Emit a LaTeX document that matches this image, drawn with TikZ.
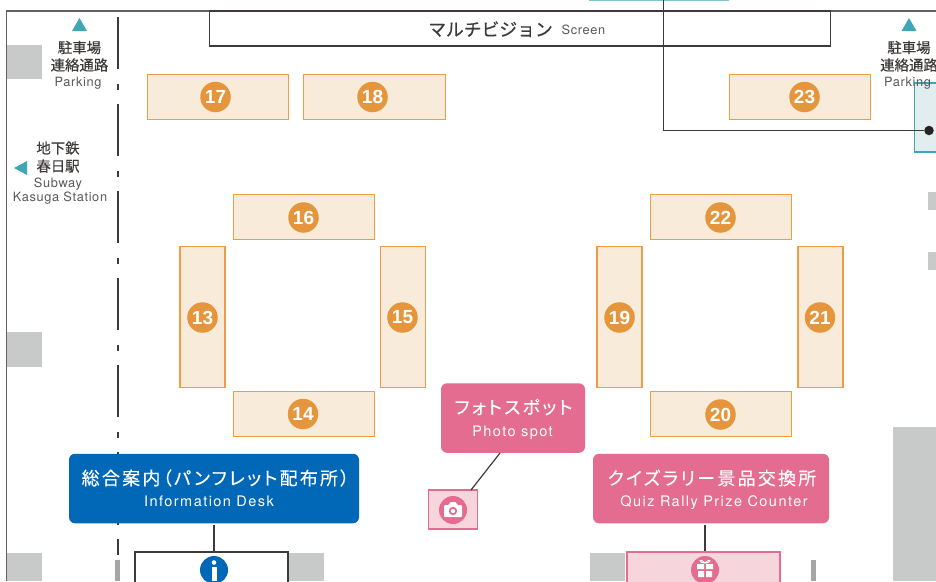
\documentclass[tikz,border=0pt]{standalone}
\usepackage{fontspec}
\setmainfont{TeX Gyre Heros}
\newfontfamily\jp[FakeBold=0.35]{Noto Sans CJK JP}
\newfontfamily\jpw[LetterSpace=12.5,RawFeature={+palt},FakeBold=0.25]{Noto Sans CJK JP}
\newfontfamily\en[LetterSpace=5]{TeX Gyre Heros}
\newfontfamily\enw[LetterSpace=10]{TeX Gyre Heros}
\newfontfamily\numf{Liberation Sans}[BoldFont={Liberation Sans Bold}]
\definecolor{bo}{HTML}{EE9C45}
\definecolor{bf}{HTML}{F9EBDA}
\definecolor{oc}{HTML}{E5963C}
\definecolor{gr}{HTML}{C8C9C9}
\definecolor{dg}{HTML}{A5A5A5}
\definecolor{tl}{HTML}{3FA6B5}
\definecolor{tf}{HTML}{E1EDEF}
\definecolor{ink}{HTML}{3E3A39}
\definecolor{pk}{HTML}{E46C90}
\definecolor{pf}{HTML}{F6D5DD}
\definecolor{bl}{HTML}{0068B7}
\tikzset{
 booth/.style={draw=bo,fill=bf,line width=1.1pt,inner sep=0pt,minimum width=#1},
 wide/.style={booth=141.5pt,minimum height=45pt},
 tall/.style={booth=45pt,minimum height=141.5pt},
 num/.style={circle,fill=oc,text=white,inner sep=0pt,minimum size=30.5pt,font=\numf\bfseries\fontsize{19}{19}\selectfont},
 lab/.style={rounded corners=6pt,text=white,inner sep=0pt,align=center},
 gry/.style={fill=gr},
 tri/.style={fill=tl},
 jt/.style={text=ink,inner sep=0pt,font=\jp\fontsize{14.4}{15}\selectfont},
 et/.style={text=ink!85,inner sep=0pt,font=\en\fontsize{12.8}{13}\selectfont},
 ln/.style={draw=ink,line width=1.2pt},
}
% #1 style, #2,#3 booth centre, #4 number, #5,#6 number badge centre
\newcommand{\bth}[6]{\node[#1] (b#4) at (#2,#3) {}; \node[num] (n#4) at (#5,#6) {#4};}
\begin{document}
\begin{tikzpicture}[x=1pt,y=-1pt]
\useasboundingbox (0,0) rectangle (936,581);
\clip (0,0) rectangle (936,581);
% grey blocks
\fill[gry] (7,45) rectangle (42,79);
\fill[gry] (7,332) rectangle (42,367);
\fill[gry] (7,553) rectangle (42,581);
\fill[gry] (288,553) rectangle (324,581);
\fill[gry] (590,553) rectangle (625,581);
\fill[gry] (893,427) rectangle (936,581);
\fill[gry] (928,192) rectangle (936,210);
\fill[gry] (928,252) rectangle (936,270);
\fill[dg] (115,560) rectangle (120,581);
\fill[dg] (811,560) rectangle (816,581);
% frame
\draw[draw=ink!80,line width=1.1pt] (936,11) -- (6.5,11) -- (6.5,581);
% dashed wall
\draw[ink,line width=1.1pt,dash pattern=on 52pt off 14.5pt on 6.5pt off 14pt] (118,17) -- (118,555);
% teal boxes
\draw[draw=tl!65,fill=tf,line width=1pt] (589,-5) rectangle (728,0.5);
\draw[draw=tl,fill=tf,line width=1.2pt] (914.5,83) rectangle (940,152);
% screen
\node[draw=ink,line width=1.2pt,fill=white,minimum width=621pt,minimum height=35pt,inner sep=0pt] (screen) at (520.3,28.5) {};
\node[inner sep=0pt,text=ink,font=\jp\fontsize{17.8}{18}\selectfont,anchor=base] (sj) at (490.5,36) {マルチビジョン};
\node[inner sep=0pt,text=ink!85,font=\en\fontsize{12.8}{13}\selectfont,anchor=base] (se) at (583.5,34.5) {Screen};
% booths
\bth{wide}{218}{96.8}{17}{215.5}{97}
\bth{wide}{374.5}{96.8}{18}{372.5}{97}
\bth{wide}{800}{96.8}{23}{804.5}{97}
\bth{wide}{304}{217.2}{16}{303.5}{217.5}
\bth{wide}{721}{217.2}{22}{720.5}{217.5}
\bth{wide}{304}{413.8}{14}{303}{414}
\bth{wide}{721}{413.8}{20}{720.5}{414.5}
\bth{tall}{202.5}{317}{13}{202.5}{317.5}
\bth{tall}{403}{317}{15}{402.5}{317.5}
\bth{tall}{619.5}{317}{19}{619.5}{317.5}
\bth{tall}{820.5}{317}{21}{820}{317.5}
% leader with dot
\coordinate (ltop) at (663.5,-1);
\node[circle,fill=ink!60!black,inner sep=0pt,minimum size=9.5pt] (dot) at (929,130.5) {};
\draw[ln] (ltop) -- (ltop|-dot) -- (dot);
% direction labels
\fill[tri] (79.5,18) -- (72,31) -- (87,31) -- cycle;
\fill[tri] (909,18) -- (901.5,31) -- (916.5,31) -- cycle;
\fill[tri] (14,168) -- (27,161) -- (27,175) -- cycle;
\node[jt] (p1a) at (79.5,47.5) {駐車場};
\node[jt] (p1b) at (79.5,65) {連絡通路};
\node[et] (p1c) at (78,83.7) {Parking};
\node[jt] (p2a) at (909,47.5) {駐車場};
\node[jt] (p2b) at (909,65) {連絡通路};
\node[et] (p2c) at (907.5,83.7) {Parking};
\node[jt] (s1) at (58,148) {地下鉄};
\node[jt] (s2) at (58,166) {春日駅};
\node[et] (s3) at (58,183.7) {Subway};
\node[et] (s4) at (60,197.7) {Kasuga Station};
% callouts
\node[lab,fill=bl,minimum width=290pt,minimum height=69.5pt] (info) at (214,488.5) {};
\node[inner sep=0pt,text=white,font=\jpw\fontsize{18}{18}\selectfont] (infoj) at (215.5,478) {総合案内（パンフレット配布所）};
\node[inner sep=0pt,text=white,font=\enw\fontsize{14.5}{14}\selectfont] (infoe) at (209,501) {Information Desk};
\node[lab,fill=pk,minimum width=144pt,minimum height=69.5pt] (photo) at (513,418) {};
\node[inner sep=0pt,text=white,font=\jpw\fontsize{18}{18}\selectfont] (photoj) at (513.5,407) {フォトスポット};
\node[inner sep=0pt,text=white,font=\enw\fontsize{14.5}{14}\selectfont] (photoe) at (512.5,432.5) {Photo spot};
\node[lab,fill=pk,minimum width=236pt,minimum height=69.5pt] (quiz) at (711,488.5) {};
\node[inner sep=0pt,text=white,font=\jpw\fontsize{18}{18}\selectfont] (quizj) at (712,478) {クイズラリー景品交換所};
\node[inner sep=0pt,text=white,font=\enw\fontsize{14.5}{14}\selectfont] (quize) at (714,502.5) {Quiz Rally Prize Counter};
% service boxes
\node[draw=ink,line width=1.1pt,fill=white,minimum width=153pt,minimum height=60pt,inner sep=0pt] (infobox) at (211.5,582) {};
\node[draw=pk,line width=1.1pt,fill=pf,minimum width=153pt,minimum height=60pt,inner sep=0pt] (giftbox) at (703.5,582) {};
\node[draw=pk,line width=1.1pt,fill=pf,minimum width=49pt,minimum height=39pt,inner sep=0pt] (cambox) at (453.3,509.5) {};
\node[circle,fill=bl,inner sep=0pt,minimum size=28pt] (infoic) at (214,570) {};
\node[circle,fill=pk,inner sep=0pt,minimum size=28pt] (giftic) at (705,570) {};
\node[circle,fill=pk,inner sep=0pt,minimum size=28pt] (camic) at (453,510) {};
% icons
\fill[white] (214,562.5) circle (2.3);
\fill[white] (211.5,567) rectangle (216.5,581);
\begin{scope}[shift={(705,570)}]
\fill[white] (-8,-6) rectangle (-1,-1) (1,-6) rectangle (8,-1) (-7,1) rectangle (-1,7) (1,1) rectangle (7,7);
\draw[white,line width=.9pt] (0,-7) .. controls (-6,-13) and (-7,-7) .. (0,-7) .. controls (7,-7) and (6,-13) .. (0,-7);
\end{scope}
\begin{scope}[shift={(453,510)}]
\fill[white,rounded corners=1pt] (-9,-5) -- (-4,-5) -- (-3,-8) -- (3,-8) -- (4,-5) -- (9,-5) -- (9,7) -- (-9,7) -- cycle;
\fill[pk] (0,1) circle (4.2);
\fill[white] (0,1) circle (2.1);
\end{scope}
% leaders
\coordinate (photoleg) at (500,453);
\coordinate (camleg) at (471,490);
\draw[ln] (photoleg) -- (camleg);
\draw[ln] (infoic|-info.south) ++(0,2) -- (infoic|-infobox.north);
\draw[ln] (giftic|-quiz.south) ++(0,2) -- (giftic|-giftbox.north);
\end{tikzpicture}
\end{document}
